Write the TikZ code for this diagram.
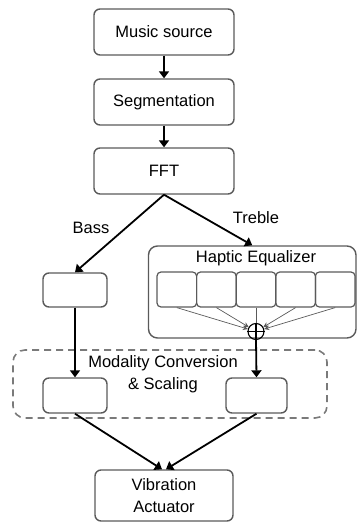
\documentclass[tikz,border=0pt]{standalone}
\usepackage{fontspec}
\setmainfont{Liberation Sans}
\usepackage{xcolor}
\usetikzlibrary{arrows.meta}
\definecolor{boxgray}{HTML}{5A5A5A}
\definecolor{dashgray}{HTML}{7A7A7A}

\begin{document}
\begin{tikzpicture}[x=1pt,y=-1pt,
        blk/.style={draw=boxgray,line width=1.4pt,rounded corners=6pt,inner sep=0pt,align=center,font=\fontsize{16.5}{22}\selectfont},
        band/.style={draw=boxgray,line width=1.2pt,rounded corners=4pt,inner sep=0pt,minimum width=39.6pt,minimum height=35pt},
        flow/.style={line width=1.8pt,-{Triangle[width=10pt,length=7pt]}},
        thin/.style={draw=boxgray,line width=0.7pt,-{Stealth[length=5pt,width=5pt]}},
        txt/.style={font=\fontsize{16.5}{22}\selectfont,align=center,inner sep=0pt}]
        \useasboundingbox (0,0) rectangle (358,526);

        \coordinate (S) at (164,32);
        \coordinate (G) at (164,102);
        \coordinate (F) at (164,171);
        \coordinate (E) at (252.25,292);
        \coordinate (V) at (164,495.5);

        \node[blk,minimum width=140pt,minimum height=46pt] (src) at (S) {Music source};
        \node[blk,minimum width=140pt,minimum height=46pt] (seg) at (G) {Segmentation};
        \node[blk,minimum width=140pt,minimum height=46pt] (fft) at (F) {FFT};

        \node[blk,minimum width=207.5pt,minimum height=92pt,rounded corners=9pt] (eq) at (E) {};
        \node[txt] (eqlabel) at (256,258) {Haptic Equalizer};
        \node[band] (b1) at (176.8,289.5) {};
        \node[band] (b2) at (216.4,289.5) {};
        \node[band] (b3) at (256,289.5) {};
        \node[band] (b4) at (295.6,289.5) {};
        \node[band] (b5) at (335.2,289.5) {};
        \node[circle,draw=black,line width=1.1pt,minimum size=16pt,inner sep=0pt] (sum) at (256,331.5) {};
        \draw[line width=1.1pt] (sum.west) -- (sum.east);
        \draw[line width=1.1pt] (sum.north) -- (sum.south);

        \node[blk,minimum width=64pt,minimum height=34pt] (bass) at (75,290) {};

        \node[draw=dashgray,line width=1.6pt,dash pattern=on 7pt off 5pt,rounded corners=12pt,minimum width=314pt,minimum height=68pt] (modal) at (170,384) {};
        \node[txt] (modlabel) at (163,374.5) {Modality Conversion\\\& Scaling};
        \node[blk,minimum width=64pt,minimum height=35pt] (lconv) at (75,395.5) {};
        \node[blk,minimum width=61pt,minimum height=35pt] (rconv) at (256.5,395.5) {};

        \node[blk,minimum width=138pt,minimum height=51pt] (act) at (V) {Vibration\\Actuator};

        \node[txt] (basslabel) at (91,228) {Bass};
        \node[txt] (treblelabel) at (256,218) {Treble};

        \draw[flow] (src) -- (seg);
        \draw[flow] (seg) -- (fft);
        \draw[flow] (fft.south) -- (bass.north);
        \draw[flow] (fft.south) -- (eq.north);

        \draw[thin] (b1.south) -- (sum);
        \draw[thin] (b2.south) -- (sum);
        \draw[boxgray,line width=0.8pt] (b3.south) -- (sum.north);
        \draw[thin] (b4.south) -- (sum);
        \draw[thin] (b5.south) -- (sum);

        \draw[flow] (bass.south) -- (lconv.north);
        \draw[flow] (sum.south) -- (rconv.north);
        \draw[flow] (lconv.south) -- ([xshift=-2pt]act.north);
        \draw[flow] (rconv.south) -- ([xshift=2pt]act.north);
    \end{tikzpicture}
\end{document}
